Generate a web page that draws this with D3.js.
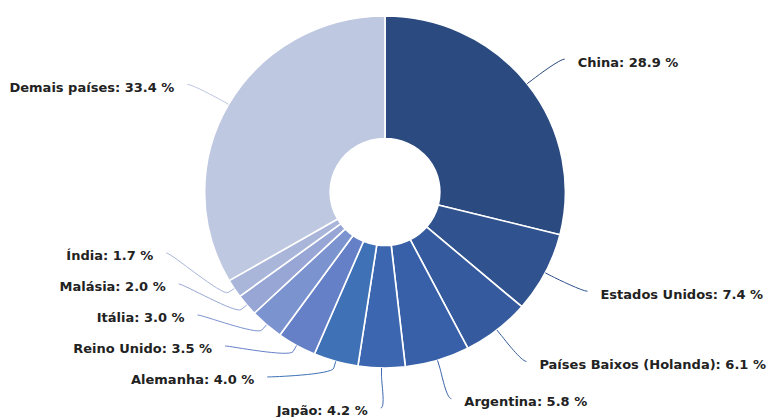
<!DOCTYPE html>
<html>
<head>
<meta charset="utf-8">
<script src="https://cdn.jsdelivr.net/npm/d3@7"></script>
<style>
  html, body { margin: 0; padding: 0; background: #ffffff; }
  svg { display: block; }
</style>
</head>
<body>
<svg id="chart" width="772" height="417"></svg>
<script>
// Participação por país de destino (%)
const categories = [
  "China", "Estados Unidos", "Países Baixos (Holanda)", "Argentina", "Japão",
  "Alemanha", "Reino Unido", "Itália", "Malásia", "Índia", "Demais países"
];
const values = [28.9, 7.4, 6.1, 5.8, 4.2, 4.0, 3.5, 3.0, 2.0, 1.7, 33.4];

// Slice palette, in slice order
const palette = [
  "#2b4a80", "#30538f", "#355b9e", "#3860a8", "#3c66b0",
  "#3e71b6", "#6680c8", "#7b93cf", "#97a6d4", "#a9b6da", "#bec8e0"
];

const W = 772, H = 417;
const cx = 385, cy = 192;
const rOuter = 176, rInner = 53.5, xStretch = 1.025;
const labelRx = 228, labelRy = 216;   // ellipse where connectors meet the labels
const labelGap = 31, labelMaxY = 408, labelMinY = 12;

const svg = d3.select("#chart");

const data = categories.map((name, i) => ({ name, value: values[i], color: palette[i] }));

const pie = d3.pie().sort(null).value(d => d.value);
const arcs = pie(data);
const arc = d3.arc().innerRadius(rInner).outerRadius(rOuter);

// Donut slices
svg.append("g")
  .attr("transform", `translate(${cx},${cy}) scale(${xStretch},1)`)
  .selectAll("path")
  .data(arcs)
  .join("path")
  .attr("d", arc)
  .attr("fill", d => d.data.color)
  .attr("stroke", "#ffffff")
  .attr("stroke-width", 1.6)
  .attr("stroke-linejoin", "round");

// Label placement: natural position on an ellipse, then spread apart per side
const pts = arcs.map(a => {
  const t = (a.startAngle + a.endAngle) / 2;
  const s = Math.sin(t), c = Math.cos(t);
  return {
    a, t, s, c,
    left: s < 0,
    x: cx + labelRx * s,
    y: cy - labelRy * c,
    tx: cx + rOuter * xStretch * s,
    ty: cy - rOuter * c,
    bx: cx + (rOuter + 7) * xStretch * s,
    by: cy - (rOuter + 7) * c
  };
});

function spread(side) {
  const list = pts.filter(p => p.left === side).sort((p, q) => p.y - q.y);
  const y0 = list.map(p => p.y);
  // push upward from the bottom edge
  let limit = labelMaxY;
  for (let i = list.length - 1; i >= 0; i--) {
    if (list[i].y > limit) list[i].y = limit;
    limit = list[i].y - labelGap;
  }
  // then downward from the top edge
  limit = labelMinY;
  for (let i = 0; i < list.length; i++) {
    if (list[i].y < limit) list[i].y = limit;
    limit = list[i].y + labelGap;
  }
  list.forEach((p, i) => {
    if (Math.abs(p.y - y0[i]) > 0.5) {
      const k = Math.min(1, Math.abs(p.y - cy) / labelRy);
      p.x = cx + (p.left ? -1 : 1) * labelRx * Math.sqrt(1 - k * k);
    }
  });
}
spread(true);
spread(false);

// Connectors
svg.append("g")
  .selectAll("path")
  .data(pts)
  .join("path")
  .attr("fill", "none")
  .attr("stroke", d => d.a.data.color)
  .attr("stroke-width", 1)
  .attr("d", p => {
    const path = d3.path();
    path.moveTo(p.x, p.y);
    path.bezierCurveTo(p.x + (p.left ? 5 : -5), p.y,
      2 * p.bx - p.tx, 2 * p.by - p.ty, p.bx, p.by);
    path.lineTo(p.tx, p.ty);
    return path.toString();
  });

// Labels
svg.append("g")
  .selectAll("text")
  .data(pts)
  .join("text")
  .attr("x", p => p.x + (p.left ? -13 : 13))
  .attr("y", p => p.y + 3)
  .attr("text-anchor", p => p.left ? "end" : "start")
  .attr("dominant-baseline", "central")
  .attr("font-family", "'DejaVu Sans', Verdana, sans-serif")
  .attr("font-size", 13)
  .attr("font-weight", "bold")
  .attr("fill", "#222222")
  .text(p => `${p.a.data.name}: ${p.a.data.value.toFixed(1)} %`);
</script>
</body>
</html>
